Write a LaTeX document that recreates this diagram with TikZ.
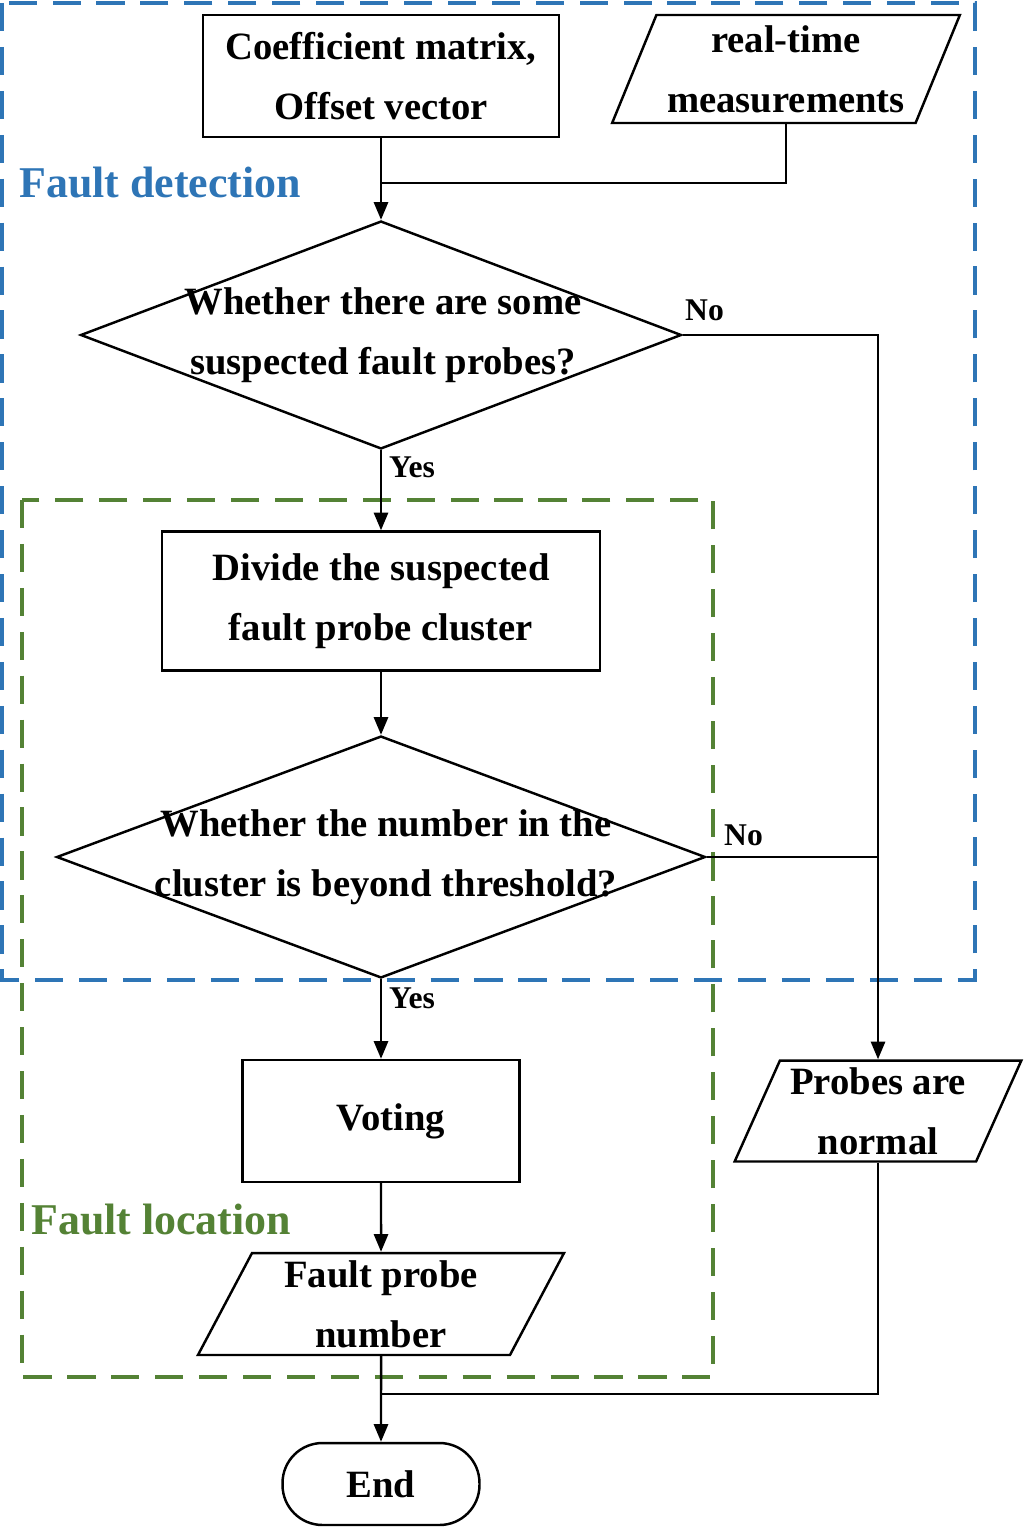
\documentclass[tikz,border=0pt]{standalone}
\usepackage{fontspec}
\setmainfont{Liberation Serif}
\usetikzlibrary{shapes.geometric,arrows.meta}
\definecolor{detblue}{RGB}{46,117,182}
\definecolor{locgreen}{RGB}{84,130,53}
\begin{document}
\begin{tikzpicture}[x=0.02cm,y=-0.02cm,line width=1.4pt,
  every node/.style={font=\bfseries\fontsize{22}{34}\selectfont,align=center,inner sep=0pt},
  procbox/.style={draw,rectangle},
  iobox/.style={draw,trapezium,trapezium left angle=65,trapezium right angle=115,trapezium stretches=true},
  decbox/.style={draw,diamond},
  lbl/.style={font=\bfseries\fontsize{18}{20}\selectfont,anchor=west},
  grp/.style={font=\bfseries\fontsize{25}{29}\selectfont,anchor=west},
  flow/.style={-{Triangle[length=10pt,width=8pt]}}]
\useasboundingbox (0,0) rectangle (1025,1527);
% groups
\draw[detblue,line width=2.2pt,dash pattern=on 16pt off 9pt] (2,3) rectangle (975,980);
\draw[locgreen,line width=2.2pt,dash pattern=on 16pt off 9pt] (22,500) rectangle (713,1377);
\node[grp,text=detblue] (gdet) at (18,183) {Fault detection};
\node[grp,text=locgreen] (gloc) at (30,1220) {Fault location};
% nodes
\node[procbox,minimum width=7.12cm,minimum height=2.44cm] (coef) at (381,76) {Coefficient matrix,\\Offset vector};
\node[iobox,minimum width=6.96cm,minimum height=2.16cm] (meas) at (786,69) {real-time\\measurements};
\node[decbox,minimum width=12.02cm,minimum height=4.56cm] (dec1) at (381,335) {};
\node (dec1t) at (383,335) {Whether there are some\\suspected fault probes?};
\node[procbox,minimum width=8.76cm,minimum height=2.78cm] (divide) at (381,601) {Divide the suspected\\fault probe cluster};
\node[decbox,minimum width=12.98cm,minimum height=4.84cm] (dec2) at (381,857) {};
\node (dec2t) at (386,857) {Whether the number in the\\cluster is beyond threshold?};
\node[procbox,minimum width=5.54cm,minimum height=2.44cm] (vote) at (381,1121) {\hspace*{0.4cm}Voting};
\node[iobox,minimum width=7.34cm,minimum height=2.04cm] (fpn) at (381,1304) {Fault probe\\number};
\node[iobox,minimum width=5.74cm,minimum height=2.02cm] (norm) at (878,1111) {Probes are\\normal};
\node[draw,rounded corners=0.8cm,minimum width=3.94cm,minimum height=1.64cm] (done) at (381,1484) {End};
\coordinate (jtop) at (381,183);
\coordinate (jbot) at (381,1394);
% connectors
\draw (coef.south) -- (jtop);
\draw (meas.south) |- (jtop);
\draw[flow] (jtop) -- (dec1.north);
\draw[flow] (dec1.east) -| (norm.north);
\node[lbl] (no1) at (684,310) {No};
\draw[flow] (dec1.south) -- (divide.north);
\node[lbl] (yes1) at (388,467) {Yes};
\draw[flow] (divide.south) -- (dec2.north);
\draw (dec2.east) -- (878,857);
\node[lbl] (no2) at (723,835) {No};
\draw[flow] (dec2.south) -- (vote.north);
\node[lbl] (yes2) at (388,998) {Yes};
\draw[flow] (vote.south) -- (fpn.north);
\draw (norm.south) |- (jbot);
\draw[flow] (fpn.south) -- (done.north);
\end{tikzpicture}
\end{document}
